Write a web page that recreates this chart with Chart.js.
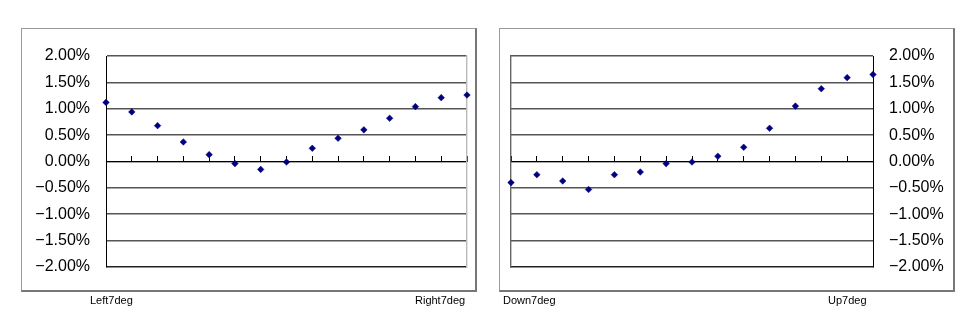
<!DOCTYPE html>
<html>
<head>
<meta charset="utf-8">
<script src="https://cdn.jsdelivr.net/npm/chart.js@4"></script>
<style>
  html, body { margin: 0; padding: 0; background: #fff; }
  body { width: 980px; height: 336px; position: relative; overflow: hidden; font-family: "Liberation Sans", Arial, sans-serif; }
  .box { position: absolute; top: 28px; height: 261px; border: 1px solid #999; border-right: 2px solid #777; border-bottom: 2px solid #777; }
  .wrap { position: absolute; top: 0; width: 490px; height: 336px; }
  .lbl { position: absolute; top: 294px; font-size: 11px; line-height: 13px; color: #000; white-space: nowrap; }
</style>
</head>
<body>
<div class="box" style="left:21px;width:453px;"></div>
<div class="box" style="left:499px;width:453px;"></div>
<div class="wrap" style="left:0;"><canvas id="chartLR"></canvas></div>
<div class="wrap" style="left:490px;"><canvas id="chartUD"></canvas></div>
<div class="lbl" style="left:90px;">Left7deg</div>
<div class="lbl" style="left:415px;">Right7deg</div>
<div class="lbl" style="left:503px;">Down7deg</div>
<div class="lbl" style="left:828px;">Up7deg</div>
<script>
// 15 steps across each sweep, values in percent
const steps = [0,1,2,3,4,5,6,7,8,9,10,11,12,13,14];
const leftRight = [1.12, 0.94, 0.68, 0.37, 0.13, -0.04, -0.15, -0.01, 0.25, 0.44, 0.60, 0.82, 1.04, 1.21, 1.26];
const downUp = [-0.40, -0.25, -0.37, -0.53, -0.25, -0.20, -0.04, -0.01, 0.10, 0.27, 0.63, 1.05, 1.38, 1.59, 1.65];
const yTicks = [2.0, 1.5, 1.0, 0.5, 0.0, -0.5, -1.0, -1.5, -2.0];

const FONT = '"Liberation Sans", Arial, sans-serif';
const NAVY = '#000080';

function fmt(v){
  const s = Math.abs(v).toFixed(2) + '%';
  return v < 0 ? '\u2212' + s : s;
}

function makeChart(id, values, axisSide){
  const other = axisSide === 'left' ? 'right' : 'left';
  const pts = steps.map((s,i)=> ({x: s, y: values[i]}));
  return new Chart(document.getElementById(id), {
    type: 'scatter',
    data: { datasets: [{
      data: pts, showLine: false, clip: false,
      pointStyle: 'rectRot', pointRadius: 3.3, pointHoverRadius: 3.3,
      backgroundColor: NAVY, borderColor: NAVY, borderWidth: 0.5
    }]},
    options: {
      responsive: true, maintainAspectRatio: false, animation: false,
      devicePixelRatio: 1,
      layout: { padding: axisSide === 'left'
        ? { left: 0, right: 23, top: 56, bottom: 69 }
        : { left: 21, right: 0, top: 56, bottom: 69 } },
      plugins: { legend: { display: false }, tooltip: { enabled: false } },
      scales: {
        x: {
          type: 'linear', min: steps[0], max: steps[steps.length-1],
          position: { y: 0 },
          ticks: { display: false, stepSize: 1 },
          grid: { drawOnChartArea: false, drawTicks: true, tickLength: -6, color: '#000', lineWidth: 1 },
          border: { display: true, color: '#000', width: 1 }
        },
        y: {
          position: axisSide,
          min: yTicks[yTicks.length-1], max: yTicks[0],
          afterBuildTicks: s => { s.ticks = yTicks.map(v => ({value: v})); },
          afterFit: s => { s.width = axisSide === 'left' ? 106 : 107; },
          ticks: { padding: 16, color: '#000', font: { family: FONT, size: 16 }, callback: v => fmt(v) },
          grid: { drawTicks: false, lineWidth: 1.6,
                  color: c => (c.tick && c.tick.value === yTicks[yTicks.length-1]) ? '#222' : '#555' },
          border: { display: true, color: '#000', width: 1 }
        },
        y2: {
          position: other,
          min: yTicks[yTicks.length-1], max: yTicks[0],
          ticks: { display: false },
          afterFit: s => { s.width = 0; },
          grid: { display: true, drawOnChartArea: false, drawTicks: false },
          border: { display: true, color: axisSide === 'left' ? '#bbb' : '#666', width: 1.4 }
        }
      }
    }
  });
}

makeChart('chartLR', leftRight, 'left');
makeChart('chartUD', downUp, 'right');
</script>
</body>
</html>
